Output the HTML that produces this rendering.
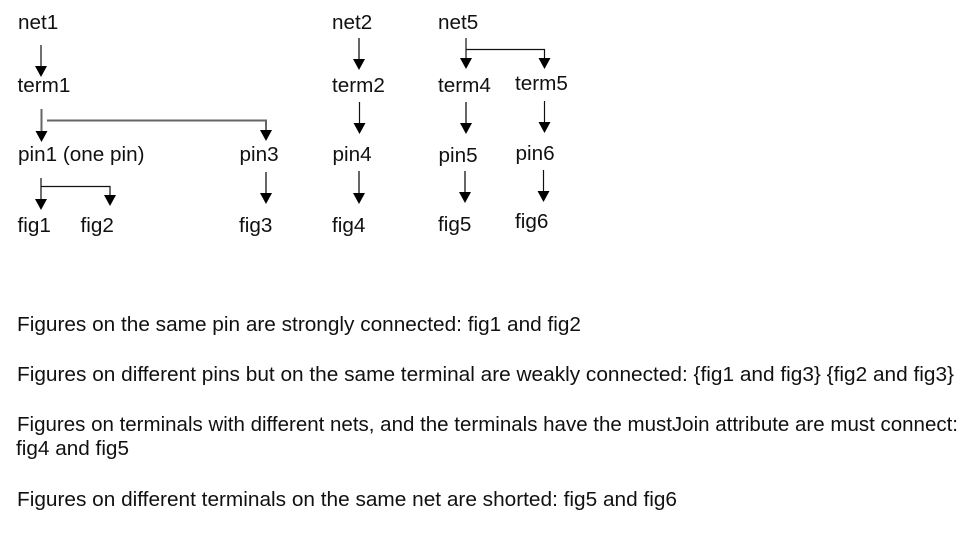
<!DOCTYPE html>
<html><head><meta charset="utf-8"><style>
html,body{margin:0;padding:0;background:#fff;width:976px;height:551px;overflow:hidden}
svg{display:block}
text{font-family:"Liberation Sans",Arial,sans-serif;font-size:20.7px;fill:#111}
text.b{font-size:20.3px}
.k{stroke:#111;stroke-width:1.2;fill:none}
.g{stroke:#666;stroke-width:2;fill:none}
polygon{fill:#000}
</style></head><body>
<svg width="976" height="551" viewBox="0 0 976 551" xmlns="http://www.w3.org/2000/svg">
<rect width="976" height="551" fill="#fff"/>
<text x="18" y="29">net1</text>
<text x="17.5" y="92">term1</text>
<text x="18" y="161">pin1 (one pin)</text>
<text x="239.5" y="161">pin3</text>
<text x="17.5" y="232">fig1</text>
<text x="80.5" y="232">fig2</text>
<text x="239" y="232">fig3</text>
<text x="332" y="29">net2</text>
<text x="332" y="92">term2</text>
<text x="332.5" y="161">pin4</text>
<text x="332" y="232">fig4</text>
<text x="438" y="29">net5</text>
<text x="438" y="92">term4</text>
<text x="515" y="90">term5</text>
<text x="438.5" y="162">pin5</text>
<text x="515.5" y="160">pin6</text>
<text x="438" y="231">fig5</text>
<text x="515" y="228">fig6</text>

<path class="k" d="M41 45V67"/><polygon points="35,66 47,66 41,77"/>
<path class="g" d="M41.5 109V132"/><polygon points="35.5,131 47.5,131 41.5,142"/>
<path class="g" d="M47 120.5H266V131"/><polygon points="260,130 272,130 266,141"/>
<path class="k" d="M41 178V200M41 186.500H110V196"/><polygon points="35,199 47,199 41,210"/><polygon points="104,195 116,195 110,206"/>
<path class="g" d="M266 172V194"/><polygon points="260,193 272,193 266,204"/>
<path class="g" d="M359 38V60"/><polygon points="353,59 365,59 359,70"/>
<path class="k" d="M359.500 102V124"/><polygon points="353.500,123 365.500,123 359.500,134"/>
<path class="g" d="M359 171V194"/><polygon points="353,193 365,193 359,204"/>
<path class="k" d="M466 38V59M466 49.500H544.500V59"/><polygon points="460,58 472,58 466,69"/><polygon points="538.500,58 550.500,58 544.500,69"/>
<path class="g" d="M466 102V124"/><polygon points="460,123 472,123 466,134"/>
<path class="k" d="M544.500 101V123"/><polygon points="538.500,122 550.500,122 544.500,133"/>
<path class="g" d="M465 171V193"/><polygon points="459,192 471,192 465,203"/>
<path class="k" d="M543.500 170V192"/><polygon points="537.500,191 549.500,191 543.500,202"/>

<text class="b" x="17" y="331" textLength="564" lengthAdjust="spacingAndGlyphs">Figures on the same pin are strongly connected: fig1 and fig2</text>
<text class="b" x="17" y="381" textLength="937" lengthAdjust="spacingAndGlyphs">Figures on different pins but on the same terminal are weakly connected: {fig1 and fig3} {fig2 and fig3}</text>
<text class="b" x="17" y="431" textLength="941" lengthAdjust="spacingAndGlyphs">Figures on terminals with different nets, and the terminals have the mustJoin attribute are must connect:</text>
<text class="b" x="16" y="455" textLength="113" lengthAdjust="spacingAndGlyphs">fig4 and fig5</text>
<text class="b" x="17" y="506" textLength="660" lengthAdjust="spacingAndGlyphs">Figures on different terminals on the same net are shorted: fig5 and fig6</text>
</svg>
</body></html>
